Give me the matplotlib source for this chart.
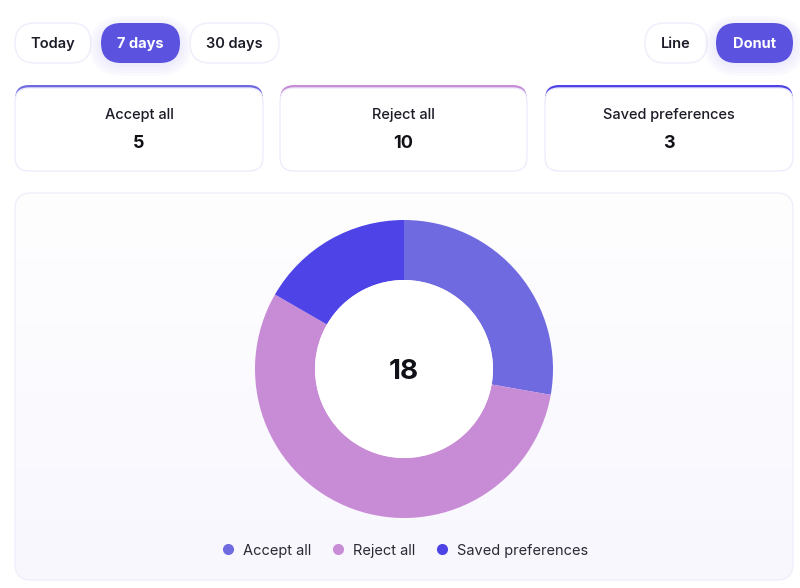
import numpy as np
import matplotlib.pyplot as plt
from matplotlib.patches import FancyBboxPatch, Circle
from matplotlib.colors import LinearSegmentedColormap

plt.rcParams['font.family'] = ['Inter', 'DejaVu Sans']

# data
labels = ['Accept all', 'Reject all', 'Saved preferences']
counts = [5, 10, 3]
colors = ['#6f6ae0', '#c88cd6', '#4d43e6']
range_buttons = ['Today', '7 days', '30 days']
view_buttons = ['Line', 'Donut']

fig = plt.figure(figsize=(8, 5.88), dpi=100)
bg = fig.add_axes([0, 0, 1, 1])
bg.set_xlim(0, 800)
bg.set_ylim(588, 0)
bg.axis('off')


def pill(x0, x1, y0, y1, active, text):
    h = y1 - y0
    if active:
        # soft glow
        for i in range(5):
            g = 2 + i * 3
            bg.add_patch(FancyBboxPatch((x0 - g + 2, y0 - g + 7), x1 - x0 + 2 * g - 4, h + 2 * g - 8,
                                        boxstyle='round,pad=0,rounding_size=%f' % ((h + 2 * g) / 2),
                                        fc='#8a84f0', ec='none', alpha=0.035))
        bg.add_patch(FancyBboxPatch((x0, y0), x1 - x0, h,
                                    boxstyle='round,pad=0,rounding_size=%f' % (h / 2),
                                    fc='#5b53e0', ec='none'))
        bg.text((x0 + x1) / 2, (y0 + y1) / 2 + 1, text, ha='center', va='center',
                fontsize=10.5, fontweight='bold', color='white')
    else:
        bg.add_patch(FancyBboxPatch((x0, y0), x1 - x0, h,
                                    boxstyle='round,pad=0,rounding_size=%f' % (h / 2),
                                    fc='white', ec='#eeedfb', lw=1))
        bg.text((x0 + x1) / 2, (y0 + y1) / 2 + 1, text, ha='center', va='center',
                fontsize=10.5, fontweight='semibold', color='#1c1c28')


range_x = [(15, 91), (101, 180), (190, 279)]
for (x0, x1), t in zip(range_x, range_buttons):
    pill(x0, x1, 23, 63, t == '7 days', t)
view_x = [(645, 707), (716, 793)]
for (x0, x1), t in zip(view_x, view_buttons):
    pill(x0, x1, 23, 63, t == 'Donut', t)

# stat cards
card_x = [(15, 263), (280, 527), (545, 793)]
for (x0, x1), lab, c, col in zip(card_x, labels, counts, colors):
    bg.add_patch(FancyBboxPatch((x0, 85), x1 - x0, 86,
                                boxstyle='round,pad=0,rounding_size=14',
                                fc=col, ec='none'))
    bg.add_patch(FancyBboxPatch((x0, 88), x1 - x0, 83,
                                boxstyle='round,pad=0,rounding_size=14',
                                fc='white', ec='#eeedfb', lw=1))
    cx = (x0 + x1) / 2
    bg.text(cx, 115, lab, ha='center', va='center', fontsize=10.5,
            fontweight='medium', color='#1c1c28')
    bg.text(cx, 144, str(c), ha='center', va='center', fontsize=13, fontweight='bold', color='#111118')

# big panel with faint vertical gradient
panel = FancyBboxPatch((15, 193), 778, 387,
                       boxstyle='round,pad=0,rounding_size=16',
                       fc='none', ec='#efeefc', lw=1, zorder=3)
bg.add_patch(panel)
grad = LinearSegmentedColormap.from_list('panel', ['#fefeff', '#f8f7fe'])
im = bg.imshow(np.linspace(0, 1, 100).reshape(-1, 1), cmap=grad, aspect='auto',
               extent=(15, 793, 580, 193), zorder=2)
im.set_clip_path(panel)
bg.set_xlim(0, 800)
bg.set_ylim(588, 0)

# donut (clockwise from the top)
cx, cy, r = 404, 369, 149
ax = fig.add_axes([(cx - r) / 800, (588 - cy - r) / 588, 2 * r / 800, 2 * r / 588])
ax.pie(counts, colors=colors, startangle=90, counterclock=False, radius=1,
       wedgeprops=dict(width=60 / 149, edgecolor='none'))
ax.add_patch(Circle((0, 0), 89 / 149, fc='white', ec='none'))
ax.set_xlim(-1, 1)
ax.set_ylim(-1, 1)
ax.set_aspect('equal')
ax.axis('off')
ax.text(0, -0.02, str(sum(counts)), ha='center', va='center', fontsize=20,
        fontweight='bold', color='#111118')

# legend
leg_dot = [228, 338, 442]
leg_txt = [243, 353, 457]
for dx, tx, lab, col in zip(leg_dot, leg_txt, labels, colors):
    bg.plot(dx, 549, 'o', ms=8, color=col, mec='none', zorder=4)
    bg.text(tx, 550.5, lab, ha='left', va='center', fontsize=10.5, color='#2a2a35', zorder=4)

fig.savefig('out.png', dpi=100, facecolor='white')
